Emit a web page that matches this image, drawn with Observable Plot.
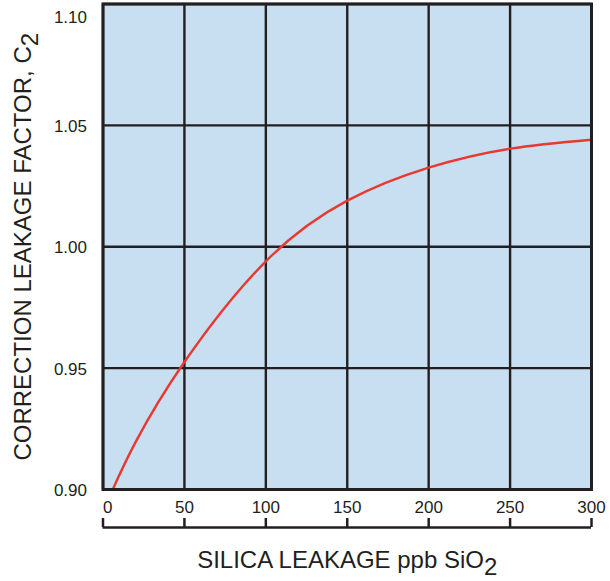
<!DOCTYPE html>
<html><head><meta charset="utf-8">
<script src="https://cdn.jsdelivr.net/npm/d3@7"></script>
<script src="https://cdn.jsdelivr.net/npm/@observablehq/plot@0.6"></script>
<style>body{margin:0;background:#fff;overflow:hidden} svg{display:block}</style>
</head><body><div id="chart"></div>
<script>
const xTicks = [0, 50, 100, 150, 200, 250, 300];
const yTicks = [0.90, 0.95, 1.00, 1.05, 1.10];
const yTickLabels = ["0.90", "0.95", "1.00", "1.05", "1.10"];
const leakage = [6, 20, 50, 100, 150, 200, 250, 300];
const factor = [0.900, 0.9195, 0.9525, 0.9940, 1.0190, 1.0326, 1.0404, 1.0441];
const xTitle = "SILICA LEAKAGE ppb SiO2";
const yTitle = "CORRECTION LEAKAGE FACTOR, C2";

const data = leakage.map((x, i) => ({x, y: factor[i]}));
const yLab = yTicks.map((v, i) => ({v, label: yTickLabels[i]}));
const ink = "#231f20";
const font = "'Liberation Sans', Arial, Helvetica, sans-serif";

const chart = Plot.plot({
  width: 610, height: 581,
  marginLeft: 102.5, marginRight: 19, marginTop: 3.5, marginBottom: 92,
  style: {fontFamily: font, background: "white", color: ink},
  x: {domain: [0, 300], axis: null},
  y: {domain: [0.9, 1.1], axis: null},
  marks: [
    Plot.frame({fill: "#c8dff2", stroke: "none"}),
    Plot.ruleX(xTicks, {x: d => d, stroke: ink, strokeWidth: 2.4}),
    Plot.ruleY(yTicks, {y: d => d, stroke: ink, strokeWidth: 2.4}),
    Plot.line(data, {x: "x", y: "y", stroke: "#e8392f", strokeWidth: 2.4, curve: "natural"}),
    Plot.frame({stroke: ink, strokeWidth: 3}),
    // bottom scale bar
    Plot.ruleX(xTicks, {x: d => d, y1: 0.9, y2: 0.9, insetTop: 0, insetBottom: -9, dy: 29, stroke: ink, strokeWidth: 2.5}),
    Plot.ruleY([0.9], {y: d => d, dy: 38, stroke: ink, strokeWidth: 2.5}),
    // x tick labels
    Plot.text(xTicks.slice(0, 1), {x: d => d, y: 0.9, text: d => String(d), dy: 18, textAnchor: "start", fontSize: 17, fill: ink}),
    Plot.text(xTicks.slice(1), {x: d => d, y: 0.9, text: d => String(d), dy: 18, fontSize: 17, fill: ink}),
    // y tick labels
    Plot.text(yLab.slice(0, 4), {y: "v", text: "label", frameAnchor: "left", dx: -16, dy: 1, textAnchor: "end", fontSize: 17, fill: ink}),
    Plot.text(yLab.slice(4), {y: "v", text: "label", frameAnchor: "left", dx: -16, dy: 14, textAnchor: "end", fontSize: 17, fill: ink}),
    // titles
    Plot.text([xTitle], {frameAnchor: "bottom", dy: 78, lineAnchor: "bottom", textAnchor: "middle", fontSize: 24, fill: ink}),
    Plot.text([yTitle], {frameAnchor: "left", dx: -72.5, rotate: -90, lineAnchor: "bottom", textAnchor: "middle", fontSize: 24, fill: ink})
  ]
});
document.getElementById("chart").appendChild(chart);

// render the trailing "2" as a subscript
d3.select(chart).selectAll("text").each(function() {
  const t = this.textContent;
  if (t === xTitle || t === yTitle) {
    const el = d3.select(this);
    el.text(null);
    el.append("tspan").text(t.slice(0, -1));
    el.append("tspan").attr("dy", "0.33em").text(t.slice(-1));
  }
});
</script>
</body></html>
